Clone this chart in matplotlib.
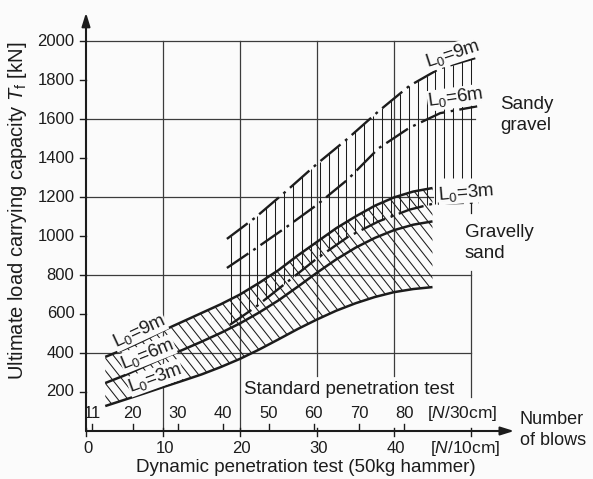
import numpy as np
import matplotlib
matplotlib.use("Agg")
import matplotlib.pyplot as plt
from matplotlib.collections import LineCollection
from matplotlib.patches import Polygon

plt.rcParams['font.family'] = ['Liberation Sans', 'DejaVu Sans']
plt.rcParams['mathtext.fontset'] = 'custom'
plt.rcParams['mathtext.rm'] = 'Liberation Sans'
plt.rcParams['mathtext.it'] = 'Liberation Sans:italic'
plt.rcParams['mathtext.sf'] = 'Liberation Sans'

# ---------------- data ----------------
# Gravelly sand (solid curves, diagonal hatched band)
gs_x  = [2.5, 5, 7.5, 10, 12.5, 15, 17.5, 20, 22.5, 25, 27.5, 30, 32.5, 35, 37.5, 40, 42.5, 45]
gs_9m = [380, 420, 465, 515, 560, 605, 650, 700, 760, 825, 900, 970, 1040, 1100, 1155, 1198, 1228, 1246]
gs_6m = [246, 285, 330, 374, 415, 458, 503, 552, 608, 670, 740, 812, 880, 940, 990, 1030, 1058, 1075]
gs_3m = [128, 160, 192, 225, 257, 290, 328, 370, 418, 470, 523, 572, 617, 655, 687, 712, 728, 738]

# Sandy gravel (dash-dot curves, vertically hatched band)
sg_x9 = [18.3, 22, 26, 30, 34, 38, 42, 46, 50.8]
sg_9m = [985, 1095, 1230, 1370, 1500, 1640, 1770, 1860, 1915]
sg_x6 = [18.3, 22, 26, 30, 34, 38, 42, 46, 50.8]
sg_6m = [836, 935, 1045, 1160, 1290, 1450, 1555, 1630, 1665]
sg_x3 = [18.7, 22, 26, 30, 34, 38, 42, 45, 51]
sg_3m = [545, 635, 760, 885, 995, 1075, 1135, 1165, 1172]

y_ticks = [200, 400, 600, 800, 1000, 1200, 1400, 1600, 1800, 2000]
n10_ticks = [0, 10, 20, 30, 40]
spt_ticks = [11, 20, 30, 40, 50, 60, 70, 80]


def spt_to_n10(n30):
    # scale relation of the two blow-count axes as drawn in the chart
    return (n30 - 9.7) / 1.7


ink = '#1c1c1c'
grid_c = '#3c3c3c'
bg = '#fbfbfb'

fig = plt.figure(figsize=(5.93, 4.79), dpi=100, facecolor=bg)
ax = fig.add_axes([86 / 593, 48 / 479, 462 / 593, 429 / 479])
ax.set_xlim(0, 60)
ax.set_ylim(0, 2200)
ax.axis('off')
ax.set_facecolor(bg)

# ---------------- grid ----------------
glw = 0.9
for y, x1 in [(400, 50), (800, 50), (1200, 45), (1600, 50.5), (2000, 48.5)]:
    ax.plot([0, x1], [y, y], color=grid_c, lw=glw, zorder=1)
for x, y0, y1 in [(10, -25, 2000), (20, -25, 2000), (30, 280, 2000), (40, 280, 2000),
                  (50, 175, 820)]:
    ax.plot([x, x], [y0, y1], color=grid_c, lw=glw, zorder=1)

# ---------------- gravelly sand band: diagonal hatching ----------------
poly = Polygon(np.column_stack([list(gs_x) + gs_x[::-1], list(gs_9m) + gs_3m[::-1]]),
               closed=True, fc='none', ec='none')
ax.add_patch(poly)
slope = 50.0
segs = [[(c, 1600), (c + 1600 / slope, 0)] for c in np.arange(-35, 60, 1.3)]
lc = LineCollection(segs, colors=ink, linewidths=0.75, zorder=2)
ax.add_collection(lc)
lc.set_clip_path(poly)

# ---------------- sandy gravel band: vertical hatching ----------------
hx = np.linspace(18.8, 50, 28)
top = np.interp(hx, sg_x9, sg_9m)
bot = np.interp(hx, sg_x3, sg_3m)
bot = np.where(hx > 45.5, 1300, bot)
ax.vlines(hx, bot, top, colors=ink, linewidth=0.75, zorder=2)
ax.plot([50, 50], [1118, 1172], color=ink, lw=0.9, zorder=2)

# ---------------- curves ----------------
for ys in (gs_9m, gs_6m, gs_3m):
    ax.plot(gs_x, ys, color=ink, lw=1.8, zorder=3, solid_capstyle='butt')
dd = (0, (11, 2.5, 1.2, 2.5))
ax.plot(sg_x9, sg_9m, color=ink, lw=1.7, ls=dd, zorder=3)
ax.plot(sg_x6, sg_6m, color=ink, lw=1.7, ls=dd, zorder=3)
ax.plot(sg_x3, sg_3m, color=ink, lw=1.7, ls=dd, zorder=3)

# ---------------- axes with arrows ----------------
ax.annotate('', xy=(0, 2145), xytext=(0, 0),
            arrowprops=dict(arrowstyle='-|>,head_length=0.8,head_width=0.25', lw=1.5,
                            color=ink, shrinkA=0, shrinkB=0), annotation_clip=False)
ax.annotate('', xy=(55.6, 0), xytext=(0, 0),
            arrowprops=dict(arrowstyle='-|>,head_length=0.8,head_width=0.25', lw=1.5,
                            color=ink, shrinkA=0, shrinkB=0), annotation_clip=False)

tfs = 12
bfs = 12.5
wfs = 13.5
for v in y_ticks:
    ax.plot([-0.8, 0], [v, v], color=ink, lw=1.0, clip_on=False)
    ax.text(-1.5, v, str(v), ha='right', va='center', fontsize=tfs, color=ink)

for v in n10_ticks + [50]:
    ax.plot([v, v], [-25, 15], color=ink, lw=1.0, clip_on=False)
for v in n10_ticks:
    ax.text(v + 0.2, -92, str(v), ha='center', va='center', fontsize=tfs, color=ink)
ax.text(49.2, -92, '[$N$/10cm]', ha='center', va='center', fontsize=bfs, color=ink)

for v in spt_ticks:
    p = spt_to_n10(v)
    ax.plot([p, p], [0, 35], color=ink, lw=1.0)
    ax.text(p, 92, str(v), ha='center', va='center', fontsize=tfs, color=ink)
ax.text(48.9, 92, '[$N$/30cm]', ha='center', va='center', fontsize=bfs, color=ink)

ax.text(20.5, 212, 'Standard penetration test', ha='left', va='center', fontsize=wfs, color=ink)
ax.text(28.5, -188, 'Dynamic penetration test (50kg hammer)', ha='center', va='center',
        fontsize=wfs, color=ink)
ax.text(56.3, 5, 'Number\nof blows', ha='left', va='center', fontsize=13, color=ink,
        linespacing=1.3)
ax.text(-8.9, 1128, r'Ultimate load carrying capacity $T_\mathrm{f}$ [kN]', rotation=90,
        ha='center', va='center', fontsize=14.5, color=ink)

ax.text(53.8, 1620, 'Sandy\ngravel', ha='left', va='center', fontsize=wfs, color=ink,
        linespacing=1.35)
ax.text(49.2, 965, 'Gravelly\nsand', ha='left', va='center', fontsize=wfs, color=ink,
        linespacing=1.3)

lab = r'$\mathrm{L_0}$='
box = dict(fc=bg, ec='none', pad=0.3)
for (x, y, r, t) in [(6.9, 512, 25, '9m'), (8.0, 395, 22, '6m'), (9.0, 272, 20, '3m'),
                     (47.6, 1935, 18, '9m'), (48.0, 1710, 8, '6m'), (49.4, 1222, 5, '3m')]:
    ax.text(x, y, lab + t, rotation=r, rotation_mode='anchor', ha='center', va='center',
            fontsize=wfs, color=ink, bbox=box, zorder=5)

fig.savefig('out.png', dpi=100, facecolor=bg)
